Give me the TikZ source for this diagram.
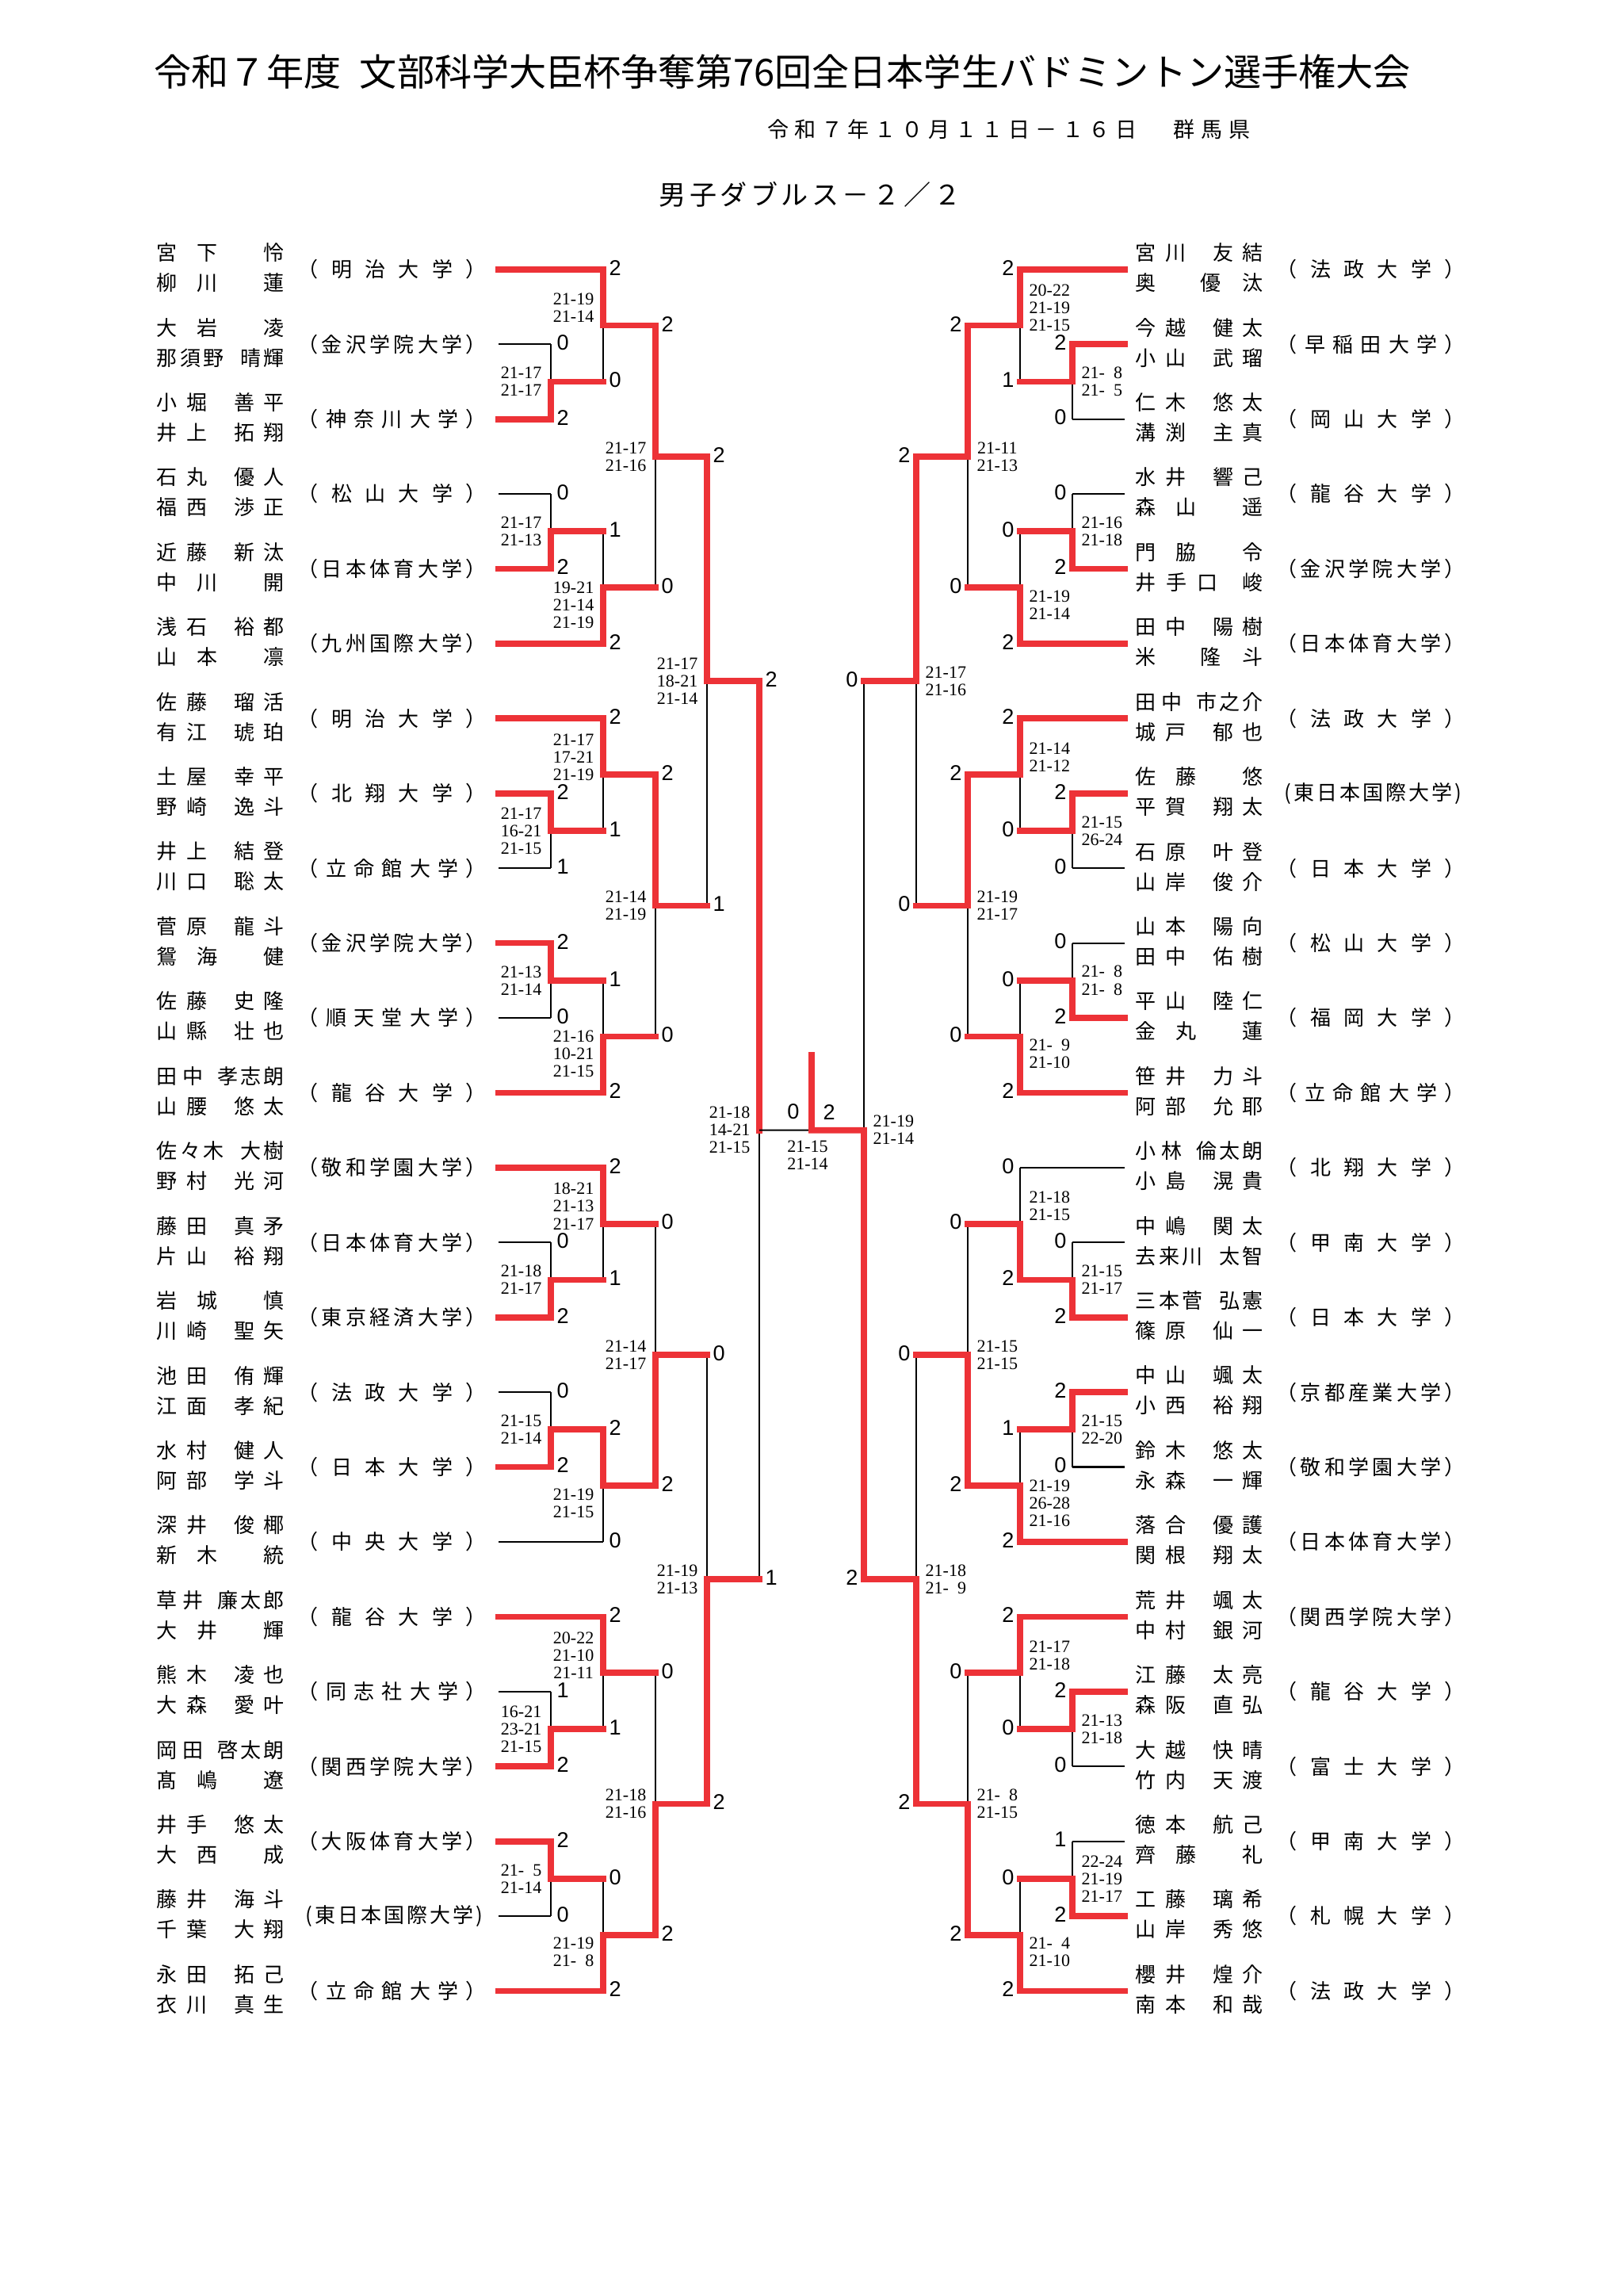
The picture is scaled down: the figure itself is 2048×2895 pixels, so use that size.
\documentclass[tikz,border=0pt]{standalone}
\usepackage{fontspec}
\setmainfont{Liberation Serif}
\newfontfamily\jpf{Noto Sans CJK JP}
\newfontfamily\cntf{Liberation Sans}
\newfontfamily\scf{Liberation Serif}
\usetikzlibrary{calc}
\definecolor{redline}{RGB}{237,50,55}

\newdimen\pxu \pxu=0.01cm
\newcount\nch
\newcommand\dg{\phantom{0}}
\makeatletter
\def\spread#1{\sp@a#1\relax}
\def\sp@a#1{#1\sp@b}
\def\sp@b#1{\ifx\relax#1\else\hfil#1\expandafter\sp@b\fi}
\def\countch#1{\nch=0 \cn@a#1\relax}
\def\cn@a#1{\ifx\relax#1\else\advance\nch 1 \expandafter\cn@a\fi}
\@namedef{nmF12}{26}\@namedef{nmG12}{79}
\@namedef{nmF21}{77}\@namedef{nmG21}{26}
\@namedef{nmF22}{64}\@namedef{nmG22}{63}
\@namedef{nmF23}{59}\@namedef{nmG23}{84}
\@namedef{nmF31}{104}\@namedef{nmG31}{26}
\@namedef{nmF32}{85}\@namedef{nmG32}{55}
\newcommand\pname[2]{\edef\pn@next{\noexpand\pn@do{#1}{#2}}\pn@next}
\def\pn@do#1#2{\countch{#1}\edef\pn@f{\the\nch}\countch{#2}\edef\pn@g{\the\nch}%
  \hbox to 161\pxu{\hbox to \@nameuse{nmF\pn@f\pn@g}\pxu{\spread{#1}}\hfil
    \hbox to \@nameuse{nmG\pn@f\pn@g}\pxu{\spread{#2}}}}
\newcommand\uni[1]{\edef\un@next{\noexpand\un@do{#1}}\un@next}
\def\un@do#1{\countch{#1}\ifnum\nch>6
  \kern10\pxu\hbox to 224\pxu{(\hfil\spread{#1}\hfil)}%
  \else\hbox to 238\pxu{（\hfil\spread{#1}\hfil）}\fi}
\makeatother

\newcommand\mL[9]{%
  \coordinate (#1) at ($(#3 -| #2)!0.5!(#4 -| #2)$);
  \ifx t#5\def\mwin{#3}\def\mlos{#4}\else\def\mwin{#4}\def\mlos{#3}\fi
  \draw[bl] (\mlos -| #2) -- (#1);
  \draw[#6] (\mlos) -- (\mlos -| #2);
  \draw[rd] (\mwin) -- (\mwin -| #2) -- (#1);
  \node[cnt, anchor=west] at ($(\mwin -| #2)+(7,-2)$) (#1w) {2};
  \node[cnt, anchor=west] at ($(\mlos -| #2)+(7,-2)$) (#1l) {#7};
  \node[scr, anchor=east] at ($(#1)+(-11,#9)$) (#1s) {#8};
}
\newcommand\mR[9]{%
  \coordinate (#1) at ($(#3 -| #2)!0.5!(#4 -| #2)$);
  \ifx t#5\def\mwin{#3}\def\mlos{#4}\else\def\mwin{#4}\def\mlos{#3}\fi
  \draw[bl] (\mlos -| #2) -- (#1);
  \draw[#6] (\mlos) -- (\mlos -| #2);
  \draw[rd] (\mwin) -- (\mwin -| #2) -- (#1);
  \node[cnt, anchor=east] at ($(\mwin -| #2)+(-7,-2)$) (#1w) {2};
  \node[cnt, anchor=east] at ($(\mlos -| #2)+(-7,-2)$) (#1l) {#7};
  \node[scr, anchor=west] at ($(#1)+(11,#9)$) (#1s) {#8};
}

\begin{document}
\begin{tikzpicture}[x=0.01cm, y=-0.01cm,
  nm/.style={inner sep=0, anchor=west, font=\jpf\fontsize{7.4pt}{8pt}\selectfont},
  hd/.style={inner sep=0, anchor=west},
  cnt/.style={inner sep=0, font=\cntf\fontsize{7.7pt}{8pt}\selectfont},
  scr/.style={inner sep=0, align=center, font=\scf\fontsize{6.26pt}{6.26pt}\selectfont},
  bl/.style={draw=black, line width=0.6pt},
  rd/.style={draw=redline, line width=2.2pt, line cap=rect}]
\fill[white] (0,0) rectangle (2048,2895);
\useasboundingbox (0,0) rectangle (2048,2895);

\node[hd, font=\jpf\fontsize{13.4pt}{14pt}\selectfont] at (194,91) (title) {令和７年度\hskip0.5em文部科学大臣杯争奪第76回全日本学生バドミントン選手権大会};
\node[hd, font=\jpf\fontsize{7.7pt}{8pt}\selectfont] at (968,163) (date) {\hbox to 466\pxu{\spread{令和７年１０月１１日－１６日}}\hskip46\pxu\hbox to 97\pxu{\spread{群馬県}}};
\node[hd, font=\jpf\fontsize{9.7pt}{10pt}\selectfont] at (831,245) (event) {\hbox to 381\pxu{\spread{男子ダブルス－２／２}}};

\coordinate (LX1) at (695,0);
\coordinate (LX2) at (761,0);
\coordinate (LX3) at (827,0);
\coordinate (LX4) at (892,0);
\coordinate (LX5) at (958,0);
\coordinate (RX1) at (1353,0);
\coordinate (RX2) at (1287,0);
\coordinate (RX3) at (1221,0);
\coordinate (RX4) at (1156,0);
\coordinate (RX5) at (1090,0);

\foreach \i/\fa/\ga/\fb/\gb/\uu in {0/宮下/怜/柳川/蓮/明治大学,1/大岩/凌/那須野/晴輝/金沢学院大学,2/小堀/善平/井上/拓翔/神奈川大学,3/石丸/優人/福西/渉正/松山大学,4/近藤/新汰/中川/開/日本体育大学,5/浅石/裕都/山本/凛/九州国際大学,6/佐藤/瑠活/有江/琥珀/明治大学,7/土屋/幸平/野崎/逸斗/北翔大学,8/井上/結登/川口/聡太/立命館大学,9/菅原/龍斗/鴛海/健/金沢学院大学,10/佐藤/史隆/山縣/壮也/順天堂大学,11/田中/孝志朗/山腰/悠太/龍谷大学,12/佐々木/大樹/野村/光河/敬和学園大学,13/藤田/真矛/片山/裕翔/日本体育大学,14/岩城/慎/川崎/聖矢/東京経済大学,15/池田/侑輝/江面/孝紀/法政大学,16/水村/健人/阿部/学斗/日本大学,17/深井/俊椰/新木/統/中央大学,18/草井/廉太郎/大井/輝/龍谷大学,19/熊木/凌也/大森/愛叶/同志社大学,20/岡田/啓太朗/髙嶋/遼/関西学院大学,21/井手/悠太/大西/成/大阪体育大学,22/藤井/海斗/千葉/大翔/東日本国際大学,23/永田/拓己/衣川/真生/立命館大学}{
  \coordinate (Le\i) at (629,{339.8+94.42*\i});
  \node[nm] at (197,{339.8+94.42*\i-21}) (Lna\i) {\pname{\fa}{\ga}};
  \node[nm] at (197,{339.8+94.42*\i+17}) (Lnb\i) {\pname{\fb}{\gb}};
  \node[nm] at (375,{339.8+94.42*\i}) (Lu\i) {\uni{\uu}};
}
\foreach \i/\fa/\ga/\fb/\gb/\uu in {0/宮川/友結/奥/優汰/法政大学,1/今越/健太/小山/武瑠/早稲田大学,2/仁木/悠太/溝渕/主真/岡山大学,3/水井/響己/森山/遥/龍谷大学,4/門脇/令/井手口/峻/金沢学院大学,5/田中/陽樹/米/隆斗/日本体育大学,6/田中/市之介/城戸/郁也/法政大学,7/佐藤/悠/平賀/翔太/東日本国際大学,8/石原/叶登/山岸/俊介/日本大学,9/山本/陽向/田中/佑樹/松山大学,10/平山/陸仁/金丸/蓮/福岡大学,11/笹井/力斗/阿部/允耶/立命館大学,12/小林/倫太朗/小島/滉貴/北翔大学,13/中嶋/関太/去来川/太智/甲南大学,14/三本菅/弘憲/篠原/仙一/日本大学,15/中山/颯太/小西/裕翔/京都産業大学,16/鈴木/悠太/永森/一輝/敬和学園大学,17/落合/優護/関根/翔太/日本体育大学,18/荒井/颯太/中村/銀河/関西学院大学,19/江藤/太亮/森阪/直弘/龍谷大学,20/大越/快晴/竹内/天渡/富士大学,21/徳本/航己/齊藤/礼/甲南大学,22/工藤/璃希/山岸/秀悠/札幌大学,23/櫻井/煌介/南本/和哉/法政大学}{
  \coordinate (Re\i) at (1419,{339.8+94.42*\i});
  \node[nm] at (1432,{339.8+94.42*\i-21}) (Rna\i) {\pname{\fa}{\ga}};
  \node[nm] at (1432,{339.8+94.42*\i+17}) (Rnb\i) {\pname{\fb}{\gb}};
  \node[nm] at (1610,{339.8+94.42*\i}) (Ru\i) {\uni{\uu}};
}

\mL{L1A}{LX1}{Le1}{Le2}{b}{bl}{0}{21-17\\21-17}{0}
\mL{L1B}{LX2}{Le0}{L1A}{t}{rd}{0}{21-19\\21-14}{-22}
\mL{L1C}{LX1}{Le3}{Le4}{b}{bl}{0}{21-17\\21-13}{0}
\mL{L1D}{LX2}{L1C}{Le5}{b}{rd}{1}{19-21\\21-14\\21-19}{22}
\mL{L1E}{LX3}{L1B}{L1D}{t}{rd}{0}{21-17\\21-16}{0}
\mL{L2A}{LX1}{Le7}{Le8}{t}{bl}{1}{21-17\\16-21\\21-15}{0}
\mL{L2B}{LX2}{Le6}{L2A}{t}{rd}{1}{21-17\\17-21\\21-19}{-22}
\mL{L2C}{LX1}{Le9}{Le10}{t}{bl}{0}{21-13\\21-14}{0}
\mL{L2D}{LX2}{L2C}{Le11}{b}{rd}{1}{21-16\\10-21\\21-15}{22}
\mL{L2E}{LX3}{L2B}{L2D}{t}{rd}{0}{21-14\\21-19}{0}
\mL{L3A}{LX1}{Le13}{Le14}{b}{bl}{0}{21-18\\21-17}{0}
\mL{L3B}{LX2}{Le12}{L3A}{t}{rd}{1}{18-21\\21-13\\21-17}{-22}
\mL{L3C}{LX1}{Le15}{Le16}{b}{bl}{0}{21-15\\21-14}{0}
\mL{L3D}{LX2}{L3C}{Le17}{t}{bl}{0}{21-19\\21-15}{22}
\mL{L3E}{LX3}{L3B}{L3D}{b}{rd}{0}{21-14\\21-17}{0}
\mL{L4A}{LX1}{Le19}{Le20}{b}{bl}{1}{16-21\\23-21\\21-15}{0}
\mL{L4B}{LX2}{Le18}{L4A}{t}{rd}{1}{20-22\\21-10\\21-11}{-22}
\mL{L4C}{LX1}{Le21}{Le22}{t}{bl}{0}{21-\dg5\\21-14}{0}
\mL{L4D}{LX2}{L4C}{Le23}{b}{rd}{0}{21-19\\21-\dg8}{22}
\mL{L4E}{LX3}{L4B}{L4D}{b}{rd}{0}{21-18\\21-16}{0}
\mL{LF}{LX4}{L1E}{L2E}{t}{rd}{1}{21-17\\18-21\\21-14}{0}
\mL{LG}{LX4}{L3E}{L4E}{b}{rd}{0}{21-19\\21-13}{0}
\mL{LH}{LX5}{LF}{LG}{t}{rd}{1}{21-18\\14-21\\21-15}{0}

\mR{R1A}{RX1}{Re1}{Re2}{t}{bl}{0}{21-\dg8\\21-\dg5}{0}
\mR{R1B}{RX2}{Re0}{R1A}{t}{rd}{1}{20-22\\21-19\\21-15}{-22}
\mR{R1C}{RX1}{Re3}{Re4}{b}{bl}{0}{21-16\\21-18}{0}
\mR{R1D}{RX2}{R1C}{Re5}{b}{rd}{0}{21-19\\21-14}{22}
\mR{R1E}{RX3}{R1B}{R1D}{t}{rd}{0}{21-11\\21-13}{0}
\mR{R2A}{RX1}{Re7}{Re8}{t}{bl}{0}{21-15\\26-24}{0}
\mR{R2B}{RX2}{Re6}{R2A}{t}{rd}{0}{21-14\\21-12}{-22}
\mR{R2C}{RX1}{Re9}{Re10}{b}{bl}{0}{21-\dg8\\21-\dg8}{0}
\mR{R2D}{RX2}{R2C}{Re11}{b}{rd}{0}{21-\dg9\\21-10}{22}
\mR{R2E}{RX3}{R2B}{R2D}{t}{rd}{0}{21-19\\21-17}{0}
\mR{R3A}{RX1}{Re13}{Re14}{b}{bl}{0}{21-15\\21-17}{0}
\mR{R3B}{RX2}{Re12}{R3A}{b}{bl}{0}{21-18\\21-15}{-22}
\mR{R3C}{RX1}{Re15}{Re16}{t}{bl}{0}{21-15\\22-20}{0}
\mR{R3D}{RX2}{R3C}{Re17}{b}{rd}{1}{21-19\\26-28\\21-16}{22}
\mR{R3E}{RX3}{R3B}{R3D}{b}{rd}{0}{21-15\\21-15}{0}
\mR{R4A}{RX1}{Re19}{Re20}{t}{bl}{0}{21-13\\21-18}{0}
\mR{R4B}{RX2}{Re18}{R4A}{t}{rd}{0}{21-17\\21-18}{-22}
\mR{R4C}{RX1}{Re21}{Re22}{b}{bl}{1}{22-24\\21-19\\21-17}{0}
\mR{R4D}{RX2}{R4C}{Re23}{b}{rd}{0}{21-\dg4\\21-10}{22}
\mR{R4E}{RX3}{R4B}{R4D}{b}{rd}{0}{21-\dg8\\21-15}{0}
\mR{RF}{RX4}{R1E}{R2E}{t}{rd}{0}{21-17\\21-16}{0}
\mR{RG}{RX4}{R3E}{R4E}{b}{rd}{0}{21-18\\21-\dg9}{0}
\mR{RH}{RX5}{RF}{RG}{b}{rd}{0}{21-19\\21-14}{0}

\coordinate (CT) at (1024,{339.8+94.42*11.5});
\coordinate (CS) at (1024,1331);
\draw[bl] (LH) -- (CT);
\draw[rd] (RH) -- (CT) -- (CS);
\node[cnt, anchor=east] at ($(CT)+(-15,-23)$) (CTl) {0};
\node[cnt, anchor=west] at ($(CT)+(14,-23)$) (CTr) {2};
\node[scr] at ($(CT)+(-5,32)$) (CTs) {21-15\\21-14};
\end{tikzpicture}
\end{document}
